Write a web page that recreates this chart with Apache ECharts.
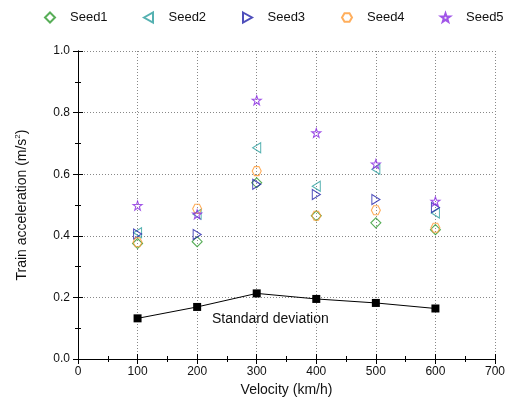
<!DOCTYPE html>
<html>
<head>
<meta charset="utf-8">
<script src="https://cdn.jsdelivr.net/npm/echarts@6/dist/echarts.min.js"></script>
<style>html,body{margin:0;padding:0;background:#fff}#c{width:510px;height:409px}</style>
</head>
<body>
<div id="c"></div>
<script>
var velocities = [100, 200, 300, 400, 500, 600];
var seed1 = [0.375, 0.381, 0.572, 0.465, 0.442, 0.420];
var seed2 = [0.410, 0.470, 0.686, 0.561, 0.616, 0.474];
var seed3 = [0.406, 0.404, 0.567, 0.534, 0.518, 0.492];
var seed4 = [0.379, 0.488, 0.610, 0.465, 0.483, 0.426];
var seed5 = [0.498, 0.470, 0.840, 0.734, 0.633, 0.512];
var stdDev = [0.132, 0.169, 0.213, 0.195, 0.182, 0.164];
var seedNames = ['Seed1', 'Seed2', 'Seed3', 'Seed4', 'Seed5'];
var xTicks = [0, 100, 200, 300, 400, 500, 600, 700];
var yTicks = [0.0, 0.2, 0.4, 0.6, 0.8, 1.0];

var FONT = 'Liberation Sans, Arial, sans-serif';
function pair(arr) { return velocities.map(function (v, i) { return [v, arr[i]]; }); }

var symbols = [
  'diamond',
  'path://M0,5 L9,0 L9,10 Z',
  'path://M0,0 L9,5 L0,10 Z',
  'path://M2.5,0 L7.5,0 L10,4.33 L7.5,8.66 L2.5,8.66 L0,4.33 Z',
  'path://M5,0 L6.18,3.45 L9.76,3.45 L6.9,5.6 L7.94,9.05 L5,7 L2.06,9.05 L3.1,5.6 L0.24,3.45 L3.82,3.45 Z'
];
var sizes = [[10, 10], [8, 10], [8, 10], [9, 9], [9, 9]];
var legendSizes = [10, 10, 10, 10, 9];
var colors = ['#2e9a2e', '#2a9d9d', '#2222aa', '#ff9a33', '#8a2be2'];
var seeds = [seed1, seed2, seed3, seed4, seed5];

var series = seeds.map(function (s, i) {
  return {
    name: seedNames[i], type: 'scatter', data: pair(s),
    symbol: symbols[i], symbolSize: sizes[i],
    itemStyle: { color: 'rgba(255,255,255,0)', borderColor: colors[i], borderWidth: 1.1 },
    z: 3
  };
});
series.push({
  name: 'Standard deviation', type: 'line', data: pair(stdDev),
  symbol: 'rect', symbolSize: 8, showSymbol: true,
  lineStyle: { color: '#000', width: 1 },
  itemStyle: { color: '#000' }, z: 4
});

var legends = seedNames.map(function (n, i) {
  return {
    data: [n], top: 11, left: 44 + i * 99, padding: 0,
    itemWidth: legendSizes[i], itemHeight: legendSizes[i],
    textStyle: { fontFamily: FONT, fontSize: 13, color: '#111', padding: [0, 0, 0, 10 + (10 - legendSizes[i])] }
  };
});

var axisLineStyle = { lineStyle: { color: '#000', width: 1 } };
var option = {
  animation: false,
  grid: { left: 78, right: 15, top: 51, bottom: 50 },
  legend: legends,
  xAxis: [{
    type: 'value', min: 0, max: 700, interval: 100,
    name: 'Velocity (km/h)', nameLocation: 'middle', nameGap: 20,
    nameTextStyle: { fontFamily: FONT, fontSize: 14, color: '#111' },
    axisLine: axisLineStyle,
    axisTick: { show: true, inside: false, length: 5, lineStyle: { color: '#000' } },
    minorTick: { show: true, splitNumber: 2, length: 3, lineStyle: { color: '#000' } },
    axisLabel: { fontFamily: FONT, fontSize: 12, color: '#111', margin: 7,
      formatter: function (v) { return xTicks.indexOf(v) >= 0 ? String(v) : ''; } },
    splitLine: { show: true, lineStyle: { type: [1, 2], color: '#888', width: 1 } }
  }, {
    type: 'value', min: 0, max: 700, interval: 100, position: 'top',
    axisLine: axisLineStyle,
    axisTick: { show: true, inside: false, length: 5, lineStyle: { color: '#000' } },
    minorTick: { show: true, splitNumber: 2, length: 3, lineStyle: { color: '#000' } },
    axisLabel: { show: false }, splitLine: { show: false }
  }],
  yAxis: [{
    type: 'value', min: 0, max: 1, interval: 0.2,
    name: 'Train acceleration (m/s{sup|2})', nameLocation: 'middle', nameGap: 48,
    nameTextStyle: { fontFamily: FONT, fontSize: 14, color: '#111',
      rich: { sup: { fontFamily: FONT, fontSize: 8, verticalAlign: 'top', padding: [0, 0, 8, 0] } } },
    axisLine: axisLineStyle,
    axisTick: { show: true, inside: false, length: 5, lineStyle: { color: '#000' } },
    minorTick: { show: true, splitNumber: 2, length: 3, lineStyle: { color: '#000' } },
    axisLabel: { fontFamily: FONT, fontSize: 12, color: '#111', margin: 8,
      formatter: function (v) { return v.toFixed(1); } },
    splitLine: { show: true, lineStyle: { type: [1, 2], color: '#888', width: 1 } }
  }, {
    type: 'value', min: 0, max: 1, interval: 0.2, position: 'right',
    axisLine: axisLineStyle,
    axisTick: { show: true, inside: false, length: 5, lineStyle: { color: '#000' } },
    minorTick: { show: true, splitNumber: 2, length: 3, lineStyle: { color: '#000' } },
    axisLabel: { show: false }, splitLine: { show: false }
  }],
  graphic: [{
    type: 'text', left: 212, top: 312,
    style: { text: 'Standard deviation', font: '14px ' + FONT, fill: '#111' }
  }],
  series: series
};
var chart = echarts.init(document.getElementById('c'), null, { renderer: 'canvas' });
chart.setOption(option);
</script>
</body>
</html>
